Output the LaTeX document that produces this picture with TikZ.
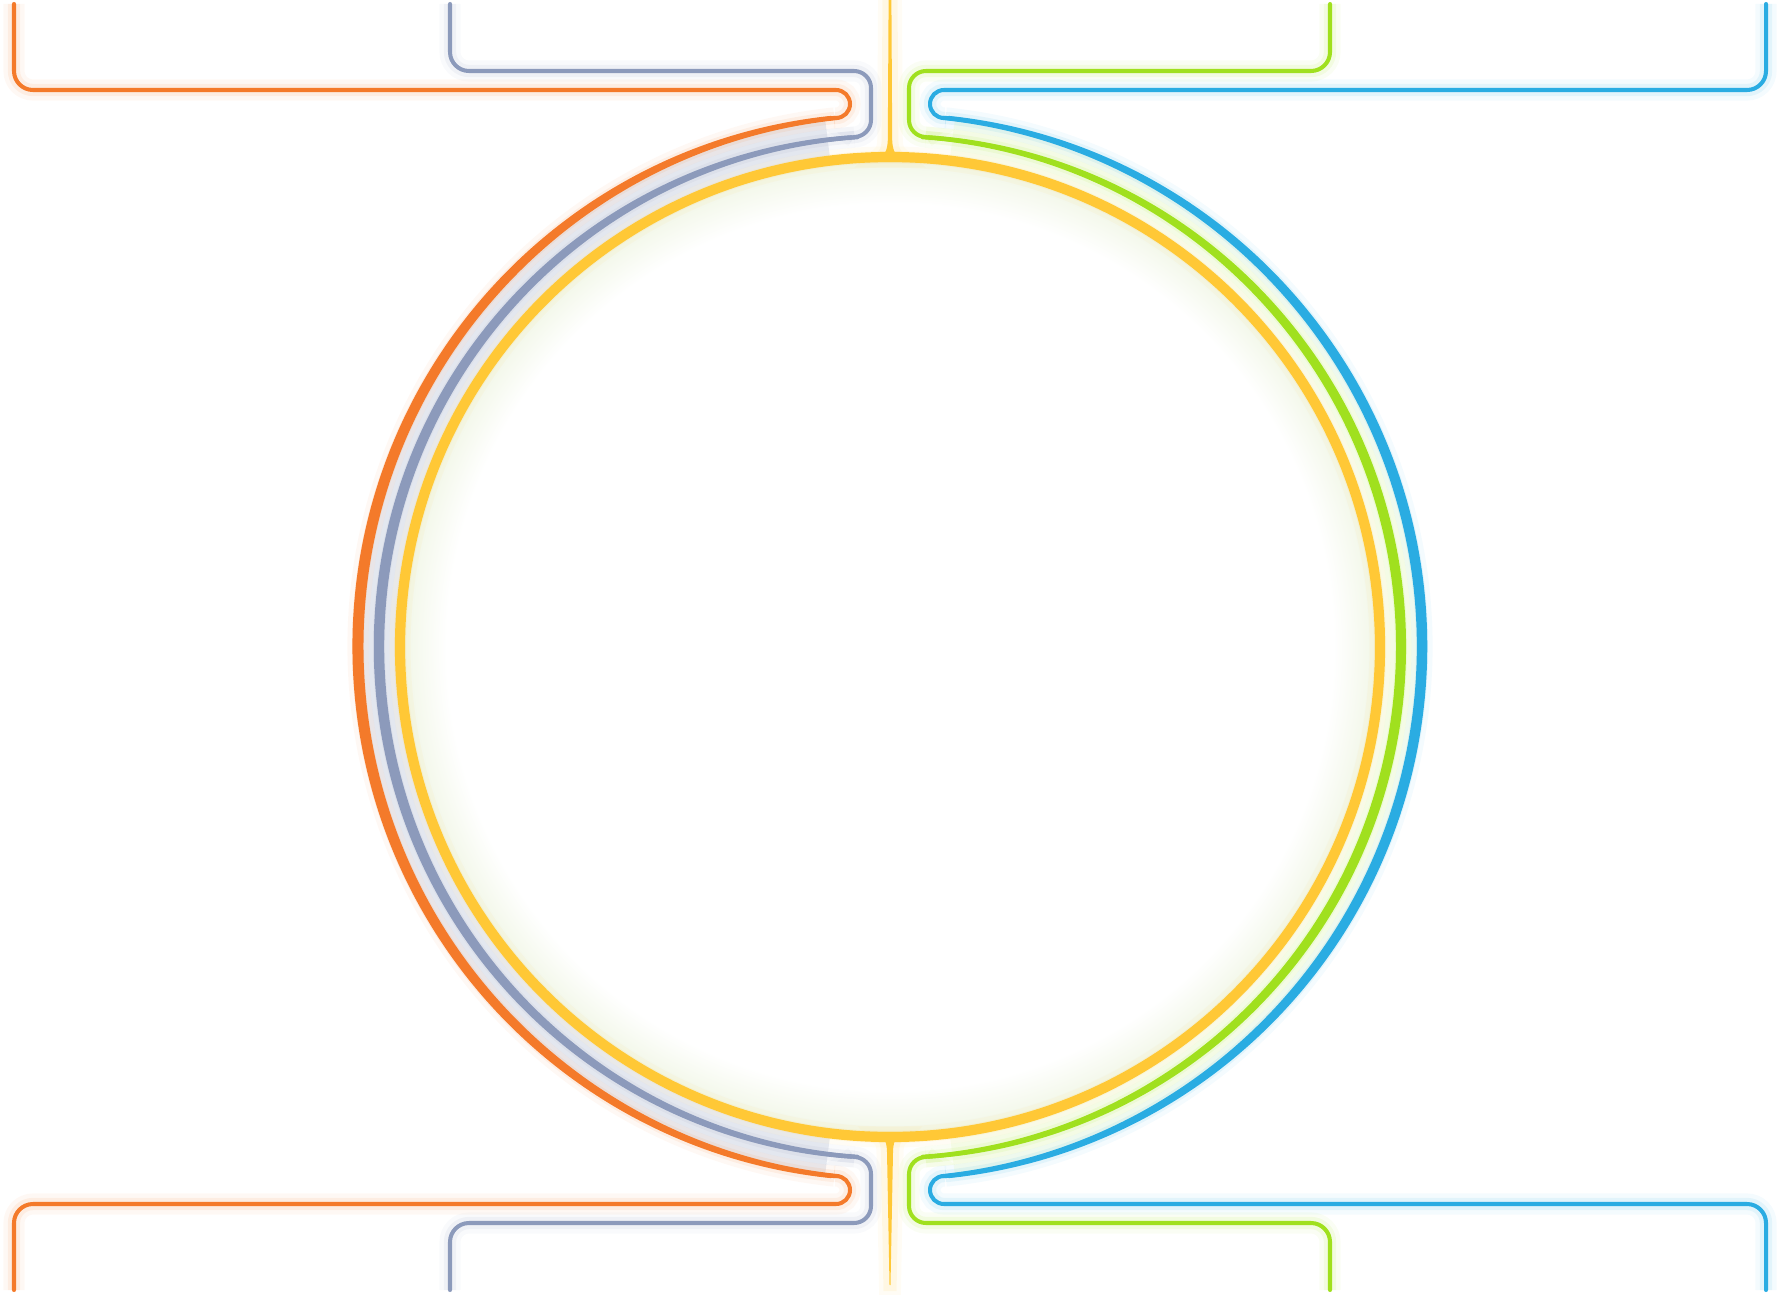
\documentclass[tikz,border=0pt]{standalone}
\usepackage{tikz}
\usetikzlibrary{
  calc
  , arrows.meta
}
\definecolor{ringOrange}{HTML}{F47A2A}
\definecolor{ringGrey}{HTML}{8C9ABB}
\definecolor{ringYellow}{HTML}{FFC836}
\definecolor{ringGreen}{HTML}{A0E01E}
\definecolor{ringBlue}{HTML}{2AACE2}
\definecolor{glowTint}{HTML}{F2F7E8}
\pgfdeclareradialshading{innerglow}{\pgfpoint{0bp}{0bp}}{%
  color(0bp)=(white); color(22.8bp)=(white); color(25bp)=(glowTint);
  color(50bp)=(glowTint)}
\tikzset{
  wire/.style={line width=1.15pt, line cap=round, line join=round},
  halo/.style={preaction={draw=#1, line width=6pt, draw opacity=0.05},
    preaction={draw=#1, line width=3.5pt, draw opacity=0.09}},
}

\begin{document}
\begin{tikzpicture}[x=0.01cm, y=-0.01cm]
      \useasboundingbox (0,0) rectangle (1782,1294);
      \def\OuterR {532};
      \def\MidR {511};
      \def\CoreR {490};
      \coordinate (Ctr) at (890,647);

      % glow inside and between the rings
      \shade[shading=innerglow] (Ctr) circle[radius=486];
      \draw[line width=11pt, draw=ringGrey, draw opacity=0.2]
      ($(Ctr)+(-97:\MidR)$) arc[start angle=-97, end angle=-263, radius=\MidR];
      \draw[line width=11pt, draw=ringGreen, draw opacity=0.07]
      ($(Ctr)+(-83:\MidR)$) arc[start angle=-83, end angle=83, radius=\MidR];

      % core ring and its stems
      \draw[halo=ringYellow, draw=ringYellow, line width=2.9pt]
      (Ctr) circle[radius=\CoreR];
      \fill[ringYellow, halo=ringYellow]
      (888.6,0) -- (891.4,0) -- (892.2,140) .. controls (892.6,150) and (895,154) .. (899,157)
      -- (881,157) .. controls (885,154) and (887.4,150) .. (887.8,140) -- cycle;
      \fill[ringYellow, halo=ringYellow]
      (882,1137) -- (898,1137) .. controls (894,1140) and (893.2,1145) .. (893,1152)
      -- (890.5,1285) -- (889.5,1285) -- (887,1152)
      .. controls (886.8,1145) and (886,1140) .. (882,1137) -- cycle;

      % orange, outer left
      \draw[wire, halo=ringOrange, draw=ringOrange]
      (14,4) -- (14,71) arc[start angle=180, end angle=90, radius=19]
      -- (836,90) arc[start angle=-90, end angle=90, radius=14]
      -- ($(Ctr)+(-96:\OuterR)$) coordinate (OrngA);
      \draw[wire, halo=ringOrange, draw=ringOrange]
      (OrngA) arc[start angle=-96, end angle=-264, radius=\OuterR] coordinate (OrngB);
      \foreach \dx in {-3.5,3.5}
        \draw[wire, draw=ringOrange]
        ($(Ctr)+(\dx,0)+(-96:\OuterR)$) arc[start angle=-96, end angle=-264, radius=\OuterR];
      \draw[wire, halo=ringOrange, draw=ringOrange]
      (OrngB) -- (836,1176) arc[start angle=-90, end angle=90, radius=14]
      -- (33,1204) arc[start angle=270, end angle=180, radius=19] -- (14,1290);

      % grey, inner left
      \draw[wire, halo=ringGrey, draw=ringGrey]
      (450,4) -- (450,52) arc[start angle=180, end angle=90, radius=19]
      -- (854,71) arc[start angle=-90, end angle=0, radius=17]
      -- (871,120) arc[start angle=0, end angle=90, radius=17]
      -- ($(Ctr)+(-94:\MidR)$) coordinate (GreyA);
      \draw[wire, halo=ringGrey, draw=ringGrey]
      (GreyA) arc[start angle=-94, end angle=-266, radius=\MidR] coordinate (GreyB);
      \foreach \dx in {-3.2,3.2}
        \draw[wire, draw=ringGrey]
        ($(Ctr)+(\dx,0)+(-94:\MidR)$) arc[start angle=-94, end angle=-266, radius=\MidR];
      \draw[wire, halo=ringGrey, draw=ringGrey]
      (GreyB) -- (854,1157) arc[start angle=270, end angle=360, radius=17]
      -- (871,1206) arc[start angle=0, end angle=90, radius=17]
      -- (469,1223) arc[start angle=270, end angle=180, radius=19] -- (450,1290);

      % green, inner right
      \draw[wire, halo=ringGreen, draw=ringGreen]
      (1330,4) -- (1330,52) arc[start angle=0, end angle=90, radius=19]
      -- (926,71) arc[start angle=270, end angle=180, radius=17]
      -- (909,120) arc[start angle=180, end angle=90, radius=17]
      -- ($(Ctr)+(-86:\MidR)$) coordinate (GrnA);
      \draw[wire, halo=ringGreen, draw=ringGreen]
      (GrnA) arc[start angle=-86, end angle=86, radius=\MidR] coordinate (GrnB);
      \foreach \dx in {-3,3}
        \draw[wire, draw=ringGreen]
        ($(Ctr)+(\dx,0)+(-86:\MidR)$) arc[start angle=-86, end angle=86, radius=\MidR];
      \draw[wire, halo=ringGreen, draw=ringGreen]
      (GrnB) -- (926,1157) arc[start angle=270, end angle=180, radius=17]
      -- (909,1206) arc[start angle=180, end angle=90, radius=17]
      -- (1311,1223) arc[start angle=270, end angle=360, radius=19] -- (1330,1290);

      % blue, outer right
      \draw[wire, halo=ringBlue, draw=ringBlue]
      (1766,4) -- (1766,71) arc[start angle=0, end angle=90, radius=19]
      -- (944,90) arc[start angle=270, end angle=90, radius=14]
      -- ($(Ctr)+(-84:\OuterR)$) coordinate (BlueA);
      \draw[wire, halo=ringBlue, draw=ringBlue]
      (BlueA) arc[start angle=-84, end angle=84, radius=\OuterR] coordinate (BlueB);
      \foreach \dx in {-3.2,3.2}
        \draw[wire, draw=ringBlue]
        ($(Ctr)+(\dx,0)+(-84:\OuterR)$) arc[start angle=-84, end angle=84, radius=\OuterR];
      \draw[wire, halo=ringBlue, draw=ringBlue]
      (BlueB) -- (944,1176) arc[start angle=270, end angle=90, radius=14]
      -- (1747,1204) arc[start angle=270, end angle=360, radius=19] -- (1766,1290);

    \end{tikzpicture}
\end{document}
